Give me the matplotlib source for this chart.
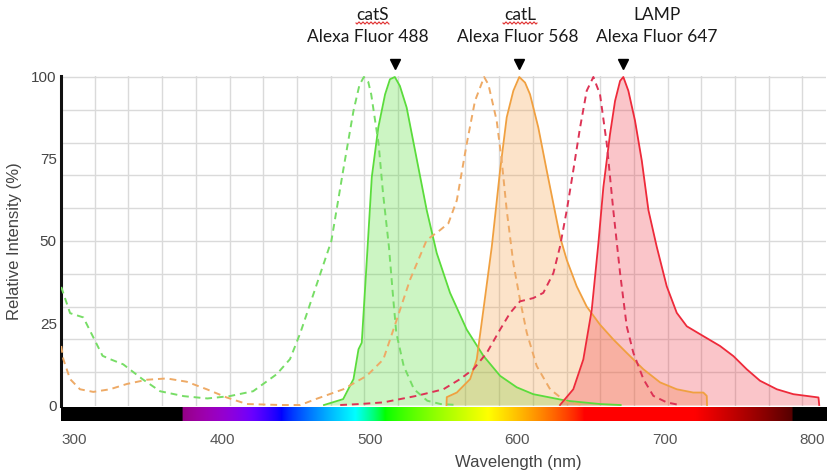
import numpy as np
import matplotlib
matplotlib.use("Agg")
import matplotlib.pyplot as plt
from matplotlib.lines import Line2D

plt.rcParams["font.family"] = ["Liberation Sans", "DejaVu Sans"]

# ---------------- data ----------------
af488_ex_nm = [291, 297, 306, 319, 324, 333, 346, 358, 374, 390, 405, 421, 437, 446, 453,
               462, 474, 482, 489, 493, 496, 499, 501, 506, 509, 513, 516, 518, 523, 530, 539, 548, 560]
af488_ex = [36, 28, 26.7, 15, 14, 12.4, 7.9, 4.2, 2.7, 2, 2.7, 4.2, 9.4, 14, 22,
            34, 50, 71.5, 89.7, 97.5, 100, 98.5, 94.7, 79.6, 64.6, 48.3, 32, 22, 11.9, 4.8, 1.3, 0.3, 0]

af488_em_nm = [469, 482, 489, 492.4, 494.6, 498, 501.4, 505.8, 510.4, 513.7, 517, 520.4, 525,
               530.7, 538.6, 545.4, 554.4, 565.7, 577, 588.3, 599.6, 610.8, 633.4, 656, 670]
af488_em = [0, 1.8, 7.9, 17, 19, 44, 69.5, 84.6, 94.7, 99.3, 100, 97.3, 90.7,
            77.6, 59.4, 46.3, 34.2, 23, 15, 8.9, 5.4, 3.3, 1.3, 0.3, 0]

af568_ex_nm = [291, 292.4, 297, 303.7, 312.7, 324, 335.4, 348.9, 362.5, 376, 389.6, 403.1,
               416.7, 440, 453, 463.4, 482.1, 498, 509.2, 518.3, 527.3, 538.6, 547.6, 553.3,
               559, 565.7, 571.3, 577.5, 580.4, 586, 589.4, 592.8, 597.3, 601.8, 606.4,
               613.1, 622.2, 633.5, 645]
af568_ex = [18, 14, 7.9, 4.8, 4, 4.8, 6.4, 7.7, 8.1, 7.1, 4.8, 2.3,
            0.3, 0, 0, 1.8, 4.8, 8.9, 13.9, 26, 38.2, 50.3, 53.3, 55.4,
            62.4, 79.6, 92.7, 100, 97.7, 86.7, 74.5, 59.4, 43.2, 32.1, 22,
            11.9, 4.8, 0.8, 0]

af568_em_nm = [552, 552.2, 559, 568, 572.5, 577, 582.7, 588.3, 592.8, 597.3, 601.3, 605.2,
               608.6, 614.2, 619.9, 624.4, 628.9, 633.5, 640.2, 647, 656, 665, 674.1,
               685.4, 696.7, 708, 719.2, 726, 728.3, 728.5]
af568_em = [0, 2.4, 3.8, 7.9, 13.9, 29, 48.3, 71.5, 87.7, 95.8, 100, 98.3,
            94.7, 84.6, 71.5, 61.4, 51.3, 44.2, 36.2, 30, 24.5, 20, 15.9,
            10.9, 6.9, 4.8, 3.8, 3.8, 2.8, 0]

af647_ex_nm = [480, 493.4, 509.2, 531.8, 549.9, 561.2, 570.2, 579.3, 588.3, 595, 601.8, 610.8,
               617.6, 624.4, 628.9, 633.5, 637.9, 642.5, 647, 651.5, 656, 660.6, 665,
               669.6, 674.1, 678.6, 685.4, 692.1, 701.2, 710]
af647_ex = [0, 0.3, 0.8, 2.8, 4.8, 7.9, 10.9, 15.9, 23, 28, 31.6, 32.6,
            34.2, 40.2, 48.3, 59.4, 71.5, 84.6, 95.8, 100, 94.7, 79.6, 59.4,
            40.2, 24, 15.9, 7.9, 2.8, 0.8, 0]

af647_em_nm = [628.9, 637.9, 644.7, 650.4, 654.9, 658.3, 662.8, 666.2, 669.6, 671.8, 675.2,
               679.7, 684.3, 688.8, 694.4, 701.2, 708, 714.8, 726, 737.3, 746.4, 755.4,
               764.4, 775.8, 787, 804, 804.5]
af647_em = [0, 4.8, 13.9, 29, 49.3, 66.5, 82.6, 92.7, 98.8, 100, 95.8,
            86.7, 74.5, 59.4, 48.3, 36.2, 28.1, 24, 21, 18, 14.9, 10.9,
            7.4, 4.8, 3.3, 2.3, 0]

targets = ["catS", "catL", "LAMP"]
dyes = ["Alexa Fluor 488", "Alexa Fluor 568", "Alexa Fluor 647"]
x_ticks = [300, 400, 500, 600, 700, 800]
y_ticks = [0, 25, 50, 75, 100]
x_label = "Wavelength (nm)"
y_label = "Relative Intensity (%)"

# ---------------- figure ----------------
W, H = 830, 475
fig = plt.figure(figsize=(W / 100, H / 100), dpi=100)
L, R, T, B = 61, 826, 76, 406
ax = fig.add_axes([L / W, 1 - B / H, (R - L) / W, (B - T) / H])
bar_top, bar_bot = 407, 421
axb = fig.add_axes([L / W, 1 - bar_bot / H, (R - L) / W, (bar_bot - bar_top) / H], sharex=ax)

xmin, xmax = 290.85, 809.1
ax.set_xlim(xmin, xmax)
ax.set_ylim(-0.3, 100.3)

# grid (square cells, as in the reference)
cell_nm = 33.7 / ((R - L) / (xmax - xmin))
vg = np.arange(xmin + cell_nm, xmax, cell_nm)
for v in vg:
    ax.axvline(v, color="#dadada", lw=1.0, zorder=0)
for h in np.arange(10, 100.1, 10):
    ax.axhline(h, color="#dadada", lw=1.0, zorder=0)

series = [
    (af488_ex_nm, af488_ex, af488_em_nm, af488_em, "#5bdc3c", "#77dd66", "#44dd22"),
    (af568_ex_nm, af568_ex, af568_em_nm, af568_em, "#f0a040", "#eeaa66", "#f59a3a"),
    (af647_ex_nm, af647_ex, af647_em_nm, af647_em, "#ee2a3a", "#dd3355", "#ee2a3a"),
]
for exx, exy, emx, emy, lc, dc, fc in series:
    ax.fill_between(emx, 0, emy, color=fc, alpha=0.27, lw=0, zorder=1)
for exx, exy, emx, emy, lc, dc, fc in series:
    ax.plot(emx, emy, color=lc, lw=1.3, zorder=3)
    ax.plot(exx, exy, color=dc, lw=1.4, ls=(0, (3.5, 2.5)), zorder=3)

# peak markers above emission maxima
for emx, emy in [(af488_em_nm, af488_em), (af568_em_nm, af568_em), (af647_em_nm, af647_em)]:
    pk = emx[int(np.argmax(emy))]
    ax.plot([pk], [104], marker="v", color="black", ms=6.5, clip_on=False, zorder=5)

# spines & ticks
for s in ["top", "right", "bottom"]:
    ax.spines[s].set_visible(False)
ax.spines["left"].set_linewidth(2.2)
ax.spines["left"].set_color("#111111")
ax.set_yticks(y_ticks)
ax.tick_params(axis="y", length=0, pad=3, labelsize=11, labelcolor="#444444")
ax.tick_params(axis="x", bottom=False, labelbottom=False)
ax.set_ylabel(y_label, fontsize=12, color="#444444", labelpad=8)
ax.yaxis.set_label_coords(-(L - 22) / (R - L), 0.5)

# spectrum bar
def wl_rgb(w):
    if w < 373:
        return (0, 0, 0)
    if w < 440:
        r, g, b = -(w - 440) / 60, 0.0, 1.0
    elif w < 490:
        r, g, b = 0.0, (w - 440) / 50, 1.0
    elif w < 510:
        r, g, b = 0.0, 1.0, -(w - 510) / 20
    elif w < 580:
        r, g, b = (w - 510) / 70, 1.0, 0.0
    elif w < 645:
        r, g, b = 1.0, -(w - 645) / 65, 0.0
    else:
        r, g, b = 1.0, 0.0, 0.0
    if w < 420:
        f = 0.45 + 0.55 * (w - 373) / 47
    elif w > 786:
        f = 0.0
    elif w > 720:
        f = 0.25 + 0.75 * (786 - w) / 66
    else:
        f = 1.0
    g_ = 0.8
    return tuple((c * f) ** g_ if c > 0 else 0 for c in (r, g, b))

wls = np.linspace(xmin, xmax, 800)
img = np.array([[wl_rgb(w) for w in wls]])
axb.imshow(img, aspect="auto", extent=[xmin, xmax, 0, 1], interpolation="bilinear")
axb.set_xlim(xmin, xmax)
axb.set_ylim(0, 1)
for s in axb.spines.values():
    s.set_visible(False)
axb.set_yticks([])
axb.set_xticks(x_ticks)
axb.tick_params(axis="x", length=0, pad=9, labelsize=11, labelcolor="#555555")
axb.set_xlabel(x_label, fontsize=12, color="#444444")
axb.xaxis.set_label_coords((518 - L) / (R - L), -(462 - bar_bot) / (bar_bot - bar_top))
axb.xaxis.label.set_va("center")

# header annotations
hdr_font = ["Lato", "DejaVu Sans"]
centers = [(372, 368), (520, 518), (657, 657)]
for (cx1, cx2), tname, dname in zip(centers, targets, dyes):
    fig.text(cx1 / W, 1 - 15 / H, tname, ha="center", va="center", fontsize=12.5,
             family=hdr_font, color="#1a1a1a")
    fig.text(cx2 / W, 1 - 37 / H, dname, ha="center", va="center", fontsize=12.5,
             family=hdr_font, color="#1a1a1a")

# spell-check squiggles under catS / catL
for x0, x1 in [(356, 389), (503, 537)]:
    xs = np.linspace(x0, x1, 60)
    ys = 23 + 1.0 * np.sin((xs - x0) * 2 * np.pi / 4)
    fig.add_artist(Line2D(xs / W, 1 - ys / H, transform=fig.transFigure,
                          color="#e03030", lw=0.8))

fig.savefig("out.png", dpi=100)
